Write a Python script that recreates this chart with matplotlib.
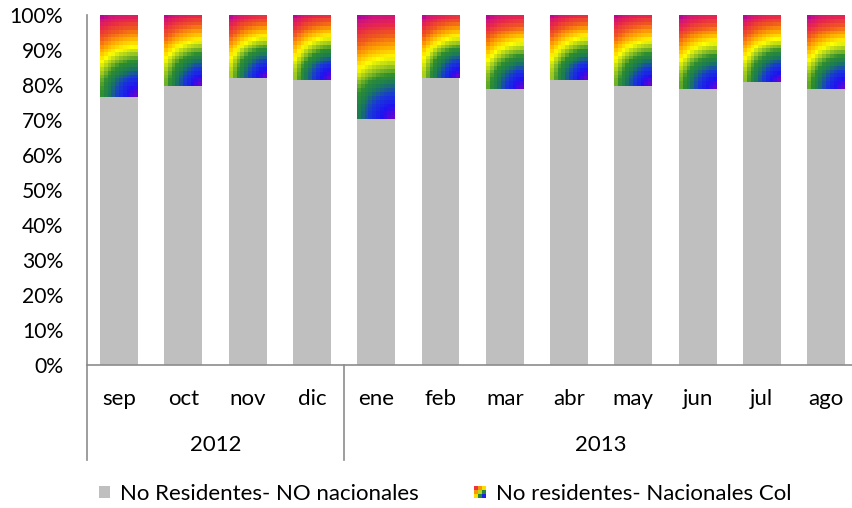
import numpy as np
import matplotlib
matplotlib.use("Agg")
import matplotlib.pyplot as plt
from matplotlib.colors import LinearSegmentedColormap
from matplotlib.patches import Rectangle, Patch
from matplotlib.legend_handler import HandlerBase
import matplotlib.transforms as mtransforms

plt.rcParams['font.family'] = ['Lato', 'DejaVu Sans']

# ---------------- data ----------------
months = ["sep", "oct", "nov", "dic", "ene", "feb", "mar", "abr", "may", "jun", "jul", "ago"]
years = ["2012", "2013"]
year_sizes = [4, 8]
no_nacionales = [76.6, 79.7, 82.0, 81.4, 70.3, 82.0, 78.9, 81.4, 79.7, 78.9, 80.9, 78.9]
nacionales_col = [100 - v for v in no_nacionales]
series_labels = ["No Residentes- NO nacionales", "No residentes- Nacionales Col"]

GRAY = "#BFBFBF"
rainbow_stops = [
    (0.00, "#7A00C8"), (0.12, "#2012F2"), (0.22, "#1838D8"), (0.32, "#1A7A58"),
    (0.40, "#2E8E30"), (0.48, "#9CC822"), (0.56, "#FFFF00"), (0.66, "#FFA800"),
    (0.76, "#F05A1E"), (0.86, "#E8284A"), (0.94, "#D2147A"), (1.00, "#A000A8"),
]
rainbow = LinearSegmentedColormap.from_list("rb", rainbow_stops)

W, H, DPI = 852, 508, 100
fig = plt.figure(figsize=(W / DPI, H / DPI), dpi=DPI)
ax_left, ax_bottom_px, ax_top_px = 87, 365, 15
slot_px = 64.27
n = len(months)
ax = fig.add_axes([ax_left / W, (H - ax_bottom_px) / H, n * slot_px / W, (ax_bottom_px - ax_top_px) / H])

x = np.arange(n)
bw = 0.59
ax.bar(x, no_nacionales, width=bw, color=GRAY, zorder=2)
ax.bar(x, nacionales_col, bottom=no_nacionales, width=bw, color="none", zorder=2)

px_per_y = (ax_bottom_px - ax_top_px) / 100.0
px_per_x = slot_px
cell = 3.8
for xi, b, h in zip(x, no_nacionales, nacionales_col):
    wpx = bw * px_per_x
    hpx = h * px_per_y
    nx = max(2, int(round(wpx / cell)))
    ny = max(2, int(round(hpx / cell)))
    cx = (np.arange(nx) + 0.5) / nx * wpx
    cy = (np.arange(ny) + 0.5) / ny * hpx
    X, Y = np.meshgrid(cx, cy)
    # Y measured from top of segment; corner at bottom-right
    d = np.sqrt((wpx - X) ** 2 + (hpx - Y) ** 2) / np.sqrt(wpx ** 2 + hpx ** 2)
    ax.imshow(rainbow(d), extent=(xi - bw / 2, xi + bw / 2, b, b + h),
              aspect="auto", interpolation="nearest", origin="upper", zorder=2)
ax.set_xlim(-0.5, n - 0.5)
ax.set_ylim(0, 100)

# axes styling
for s in ["top", "right"]:
    ax.spines[s].set_visible(False)
for s in ["left", "bottom"]:
    ax.spines[s].set_color("#8C8C8C")
    ax.spines[s].set_linewidth(1.2)
ax.set_yticks(np.arange(0, 101, 10))
ax.set_yticklabels([f"{v}%" for v in range(0, 101, 10)])
ax.tick_params(axis="y", length=0, pad=17, labelsize=15.2)
ax.set_xticks([])

FS = 16
trans = mtransforms.blended_transform_factory(ax.transData, ax.transAxes)
hgt = ax_bottom_px - ax_top_px
for xi, m in zip(x, months):
    ax.text(xi, -34 / hgt, m, transform=trans, ha="center", va="center", fontsize=FS)
start = 0
for yl, sz in zip(years, year_sizes):
    ax.text(start + sz / 2 - 0.5, -80 / hgt, yl, transform=trans, ha="center", va="center", fontsize=FS)
    ax.plot([start - 0.5, start - 0.5], [0, -95 / hgt], transform=trans, color="#8C8C8C",
            lw=1.2, clip_on=False, zorder=3)
    start += sz


class RainbowHandler(HandlerBase):
    def create_artists(self, legend, orig_handle, xdescent, ydescent, width, height, fontsize, trans):
        k = 3
        side = height
        x0 = -xdescent + (width - side) / 2
        y0 = -ydescent
        arts = []
        for i in range(k):
            for j in range(k):
                dx = (k - 1 - i) + 0.5
                dy = j + 0.5
                d = np.sqrt(dx ** 2 + dy ** 2) / np.sqrt(2 * k ** 2)
                arts.append(Rectangle((x0 + i * side / k, y0 + j * side / k), side / k, side / k,
                                      facecolor=rainbow(d), edgecolor="none", transform=trans))
        return arts


h1 = Patch(facecolor=GRAY, edgecolor="none")
h2 = Patch(facecolor="red")
fig.legend([h1, h2], series_labels, loc="center", bbox_to_anchor=(445 / W, 1 - 494 / H),
           ncol=2, frameon=False, fontsize=FS, handlelength=0.5, handleheight=0.5,
           handletextpad=0.45, columnspacing=2.5, handler_map={h2: RainbowHandler()})

fig.savefig("out.png", dpi=DPI)
